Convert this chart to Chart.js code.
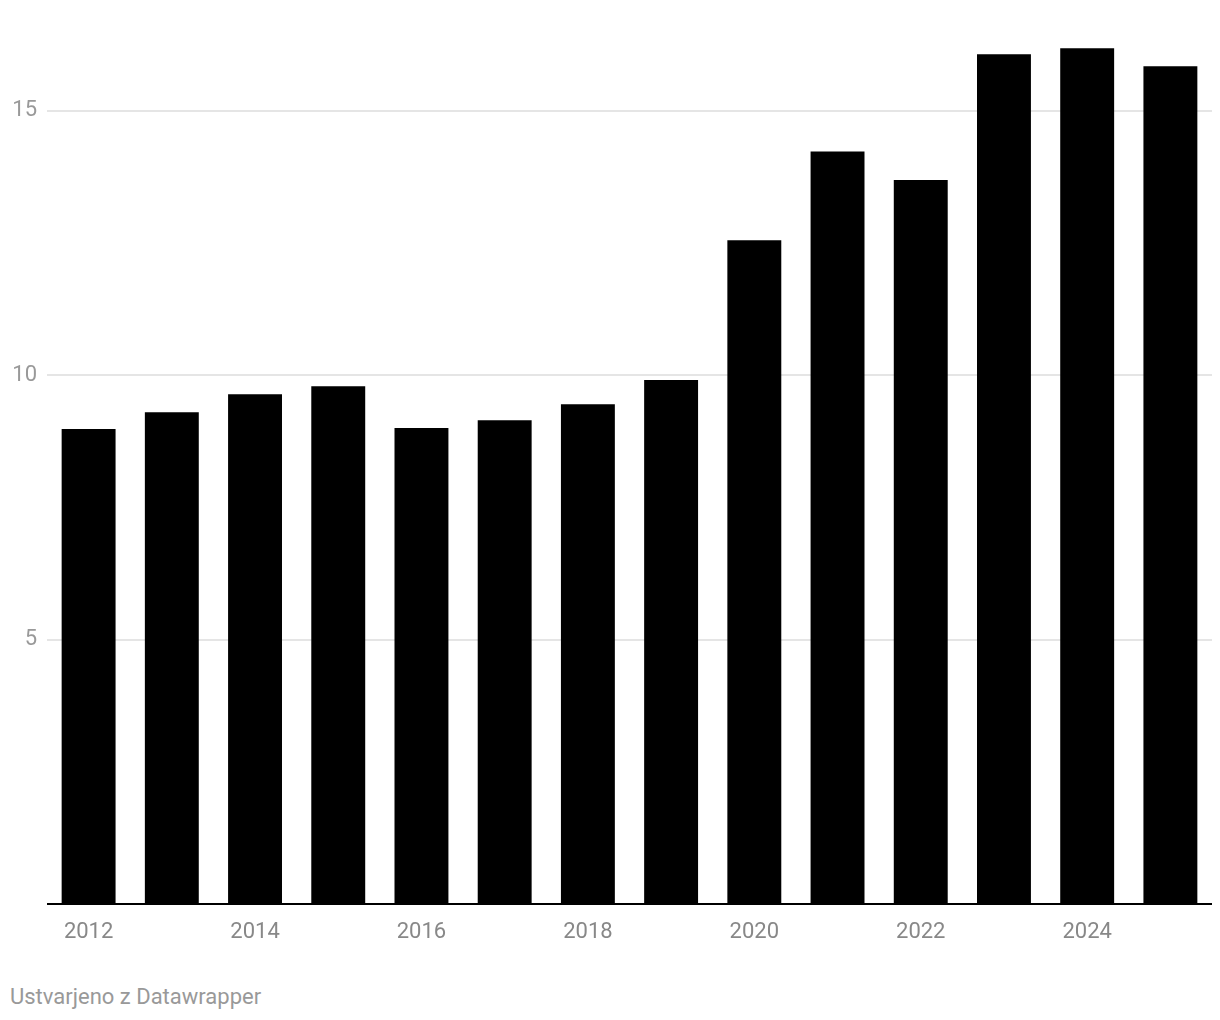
<!DOCTYPE html>
<html>
<head>
<meta charset="utf-8">
<script src="https://cdn.jsdelivr.net/npm/chart.js@4/dist/chart.umd.min.js"></script>
<style>
    body { margin: 0; background: #fff; font-family: Roboto, sans-serif; }
    #wrap { position: relative; width: 1220px; height: 1020px; }
    #chartBox { position: absolute; left: 0; top: 0; width: 1220px; height: 950px; }
    #footer { position: absolute; left: 10px; top: 984px; font-size: 22px; color: #999; }
</style>
</head>
<body>
<div id="wrap">
    <div id="chartBox"><canvas id="barChart"></canvas></div>
    <div id="footer">Ustvarjeno z Datawrapper</div>
</div>
<script>
// Data
const years = ['2012', '2013', '2014', '2015', '2016', '2017', '2018', '2019', '2020', '2021', '2022', '2023', '2024', '2025'];
const values = [8.98, 9.30, 9.64, 9.79, 9.00, 9.15, 9.45, 9.91, 12.55, 14.23, 13.69, 16.07, 16.18, 15.84];
const yTicks = [5, 10, 15];

const ctx = document.getElementById('barChart').getContext('2d');

new Chart(ctx, {
    type: 'bar',
    data: {
        labels: years,
        datasets: [{
            data: values,
            backgroundColor: '#000',
            borderWidth: 0,
            categoryPercentage: 1,
            barPercentage: 0.648
        }]
    },
    options: {
        responsive: true,
        maintainAspectRatio: false,
        animation: false,
        layout: { padding: { top: 5, right: 8, left: 0, bottom: 0 } },
        plugins: {
            legend: { display: false },
            tooltip: { enabled: false }
        },
        scales: {
            x: {
                grid: { display: false, drawTicks: false },
                border: { display: false },
                ticks: {
                    autoSkip: false,
                    maxRotation: 0,
                    padding: 15,
                    color: '#888',
                    font: { family: 'Roboto', size: 22 },
                    callback: function(value, index) {
                        return index % 2 === 0 ? years[index] : '';
                    }
                },
                afterFit: function(scale) { scale.height = 46; }
            },
            y: {
                min: 0,
                max: 17,
                border: { display: false },
                grid: {
                    drawTicks: false,
                    lineWidth: 2,
                    color: function(c) {
                        return c.tick && c.tick.value === 0 ? '#000' : '#e5e5e5';
                    }
                },
                ticks: {
                    stepSize: 5,
                    padding: 10,
                    color: '#999',
                    font: { family: 'Roboto', size: 22, lineHeight: 1.05 },
                    callback: function(value) {
                        return yTicks.includes(value) ? value : '';
                    }
                },
                afterBuildTicks: function(scale) {
                    scale.ticks = scale.ticks.filter(t => t.value === 0 || yTicks.includes(t.value));
                },
                afterFit: function(scale) {
                    scale.width = 47;
                    scale.paddingTop = 0;
                    scale.paddingBottom = 0;
                }
            }
        }
    }
});
</script>
</body>
</html>
